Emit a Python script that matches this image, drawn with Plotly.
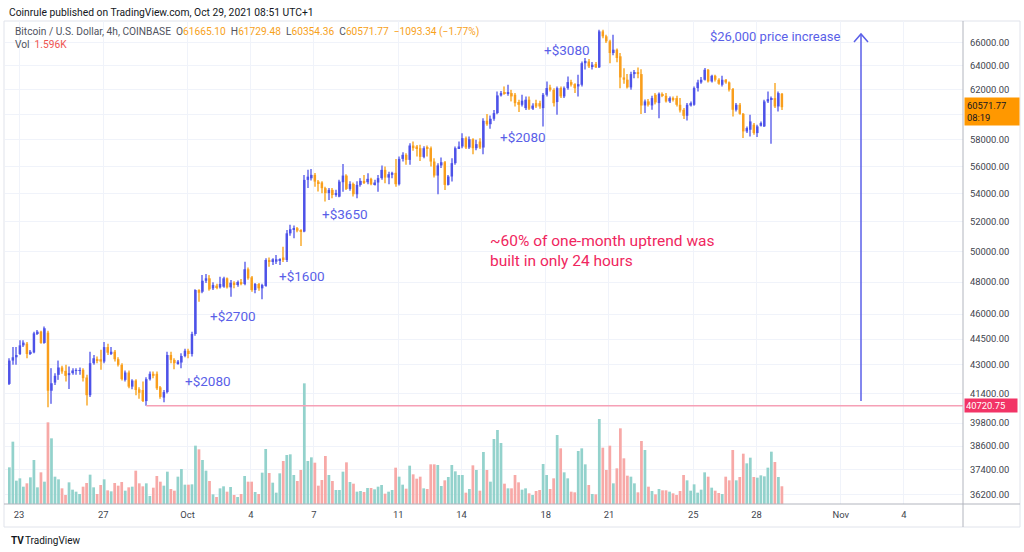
import numpy as np
import pandas as pd
import plotly.graph_objects as go

# ---------------- data ----------------
start_time = "2021-09-22 13:00"
n_bars = 221
dates = pd.date_range(start_time, periods=n_bars, freq="4h")

opens = [
    41924, 43247, 43436, 43625, 44130, 44231, 43663, 43720, 44840, 44942,
    44272, 44881, 41546, 42000, 42434, 42850, 42661, 42416, 42529, 42661,
    42661, 42718, 42283, 41300, 43096, 43342, 43323, 43190, 44028, 43663,
    43757, 43323, 43002, 42151, 42567, 41773, 42113, 41622, 41584, 40979,
    42189, 42491, 42491, 41735, 41168, 41471, 43568, 43285, 43096, 43134,
    43512, 43814, 43625, 44800, 47500, 47393, 48091, 48245, 47608, 47780,
    47670, 47712, 48245, 47670, 47965, 47880, 48007, 47880, 48830, 48308,
    47500, 47880, 47608, 47760, 49436, 49350, 49324, 49400, 49600, 49436,
    51220, 51500, 51570, 51452, 51340, 54991, 55110, 55360, 54870, 54800,
    54390, 54030, 54267, 53900, 53780, 54823, 55310, 54335, 54700, 53953,
    54628, 54920, 54820, 55070, 54676, 54800, 55120, 55730, 55160, 55360,
    55510, 54676, 56550, 56856, 56475, 57565, 57490, 57360, 56700, 57410,
    57360, 56350, 55310, 56060, 56300, 54628, 55240, 56230, 57360, 57490,
    58130, 57410, 58050, 57360, 57870, 57410, 59490, 59220, 59650, 60100,
    61530, 61800, 61720, 61720, 61585, 60990, 60770, 60500, 61180, 60450,
    60900, 60900, 60500, 61585, 62190, 61990, 60990, 62130, 61450, 62130,
    62630, 62460, 62270, 62410, 64225, 64370, 63950, 64150, 63870, 67000,
    66560, 66120, 65100, 65390, 64815, 63020, 62830, 62190, 63300, 63470,
    63300, 60715, 61040, 60715, 61583, 60904, 61638, 61500, 61040, 61310,
    61310, 60770, 60367, 59888, 60715, 60770, 62133, 62603, 62825, 63665,
    62686, 63158, 62825, 62409, 62825, 62603, 62051, 60367, 60770, 60047,
    58655, 58785, 59177, 58526, 59098, 59046, 61040, 61174, 61310, 60635,
    61665.10,
]
highs = [
    43380, 44028, 44028, 44434, 44434, 44333, 43852, 44942, 45043, 45002,
    45246, 45002, 42812, 42529, 43247, 42945, 43002, 42907, 42812, 42812,
    42850, 42812, 42434, 43757, 43568, 43474, 43866, 44333, 44231, 44028,
    43852, 43436, 43096, 42680, 42680, 42189, 42189, 41735, 42056, 42302,
    42623, 42623, 42623, 41811, 41584, 43757, 43757, 43380, 43285, 43663,
    43927, 43927, 44942, 47550, 47550, 48458, 48523, 48450, 48000, 47900,
    48350, 48350, 48300, 48136, 48050, 48100, 48200, 49324, 48950, 48400,
    47950, 47950, 47900, 49550, 49600, 49550, 49765, 49550, 50320, 51452,
    51800, 51750, 51650, 51500, 55360, 55734, 55790, 55490, 54990, 54900,
    54500, 54400, 54400, 54267, 55000, 56160, 55400, 54900, 54800, 54900,
    55120, 55360, 55480, 55150, 55000, 55360, 56060, 55980, 55600, 55600,
    56550, 56730, 57060, 56980, 57745, 57870, 57600, 57616, 57500, 57565,
    57490, 56600, 56230, 56650, 56400, 55360, 56600, 57490, 57870, 58520,
    58260, 58260, 58130, 58000, 58130, 59700, 60020, 59900, 60350, 61860,
    61900, 62270, 62400, 61990, 61720, 61180, 61585, 61450, 61450, 60900,
    61180, 61100, 61720, 62690, 62410, 62130, 62270, 62270, 62270, 63100,
    62830, 62540, 63244, 64370, 64670, 64580, 64320, 64320, 67150, 67150,
    66700, 66250, 66710, 65500, 65100, 63800, 63300, 63500, 63650, 63850,
    63700, 61200, 61230, 61500, 61720, 61775, 61775, 61720, 61447, 61447,
    61500, 61310, 60500, 60904, 61040, 62270, 62825, 63047, 63810, 63720,
    63245, 63245, 62960, 63158, 62880, 62686, 62133, 60904, 60904, 60100,
    59046, 59968, 59308, 59177, 59440, 61174, 61858, 61447, 62547, 61858,
    61729.48,
]
lows = [
    41867, 43002, 43002, 43568, 44028, 43380, 43568, 43663, 44739, 44231,
    44231, 40640, 40829, 41867, 42151, 42491, 42056, 41641, 42434, 42434,
    42434, 42056, 40735, 41206, 43002, 43096, 42718, 43096, 43568, 43568,
    43190, 42907, 42113, 42056, 41678, 41622, 41300, 41111, 40924, 40720.75,
    42113, 42246, 41584, 41111, 40908, 41395, 43096, 42756, 43002, 42812,
    43436, 43380, 43474, 44700, 46770, 47300, 47950, 47460, 47500, 47550,
    47600, 47650, 47600, 47080, 47608, 47700, 47800, 47800, 48150, 47393,
    47290, 47460, 46914, 47700, 49000, 49110, 49180, 49100, 49300, 49300,
    51050, 50890, 51300, 50367, 51300, 54400, 54950, 54500, 54145, 54030,
    53430, 53547, 53660, 53780, 53740, 54140, 54250, 54200, 53790, 53670,
    54500, 54700, 54676, 54600, 54580, 54140, 55000, 54750, 54676, 55120,
    54500, 54580, 56350, 56105, 56105, 57160, 56730, 56400, 56600, 56730,
    55980, 55160, 53953, 55860, 54260, 54580, 54870, 56105, 57300, 57360,
    57300, 57300, 56900, 57200, 57300, 56900, 59100, 58860, 59490, 60000,
    61450, 61585, 61500, 61040, 60630, 60180, 60630, 60350, 60350, 60350,
    60500, 60450, 59040, 61450, 61860, 60630, 59970, 61310, 61310, 61990,
    62270, 61720, 61450, 62270, 63680, 63810, 63680, 63810, 63810, 66400,
    65970, 64225, 64900, 64300, 62130, 62500, 62100, 62000, 62950, 62950,
    60020, 60100, 60635, 60367, 60800, 59700, 61390, 60960, 60904, 61040,
    60635, 60150, 59624, 59519, 60635, 60700, 61858, 62500, 62770, 62600,
    62600, 62686, 62410, 62270, 62500, 61858, 59835, 60234, 59968, 58139,
    58526, 58268, 58400, 58216, 59046, 58990, 60904, 57703, 60500, 60234,
    60354.36,
]
closes = [
    43247, 43436, 43568, 44130, 44292, 43625, 43757, 44840, 44942, 44272,
    45145, 41546, 41962, 42378, 42850, 42623, 42378, 42529, 42680, 42699,
    42699, 42246, 41300, 43096, 43380, 43247, 43190, 44028, 43701, 43757,
    43323, 43002, 42189, 42567, 41773, 42113, 41584, 41433, 40979, 42189,
    42491, 42378, 41678, 41206, 41471, 43568, 43285, 43096, 43190, 43512,
    43814, 43625, 44800, 47500, 47330, 48091, 48245, 47544, 47816, 47670,
    47880, 48245, 47670, 47965, 47880, 48007, 47923, 48830, 48245, 47500,
    47880, 47608, 47816, 49436, 49350, 49480, 49480, 49480, 49436, 51220,
    51500, 51570, 51405, 51340, 54991, 55230, 55360, 54870, 54750, 54390,
    54030, 54267, 53900, 54030, 54870, 55310, 54335, 54700, 53953, 54628,
    54920, 54820, 55070, 54676, 54800, 55120, 55730, 55160, 55410, 55510,
    54676, 56550, 56856, 56475, 57565, 57360, 57360, 56700, 57360, 57360,
    56350, 55310, 56060, 56300, 54628, 55240, 56230, 57360, 57490, 58130,
    57410, 58050, 57360, 57670, 57410, 59490, 59220, 59650, 60100, 61530,
    61720, 61720, 61780, 61450, 60900, 60770, 61100, 61180, 60450, 60700,
    60630, 60630, 61585, 62130, 61990, 60900, 62130, 61450, 62130, 62630,
    62410, 62130, 62460, 64225, 64420, 63950, 64093, 63870, 67000, 66560,
    66120, 65100, 65390, 64670, 63020, 62830, 62190, 63300, 63470, 63300,
    60710, 61040, 60770, 61310, 60960, 61665, 61500, 61040, 61310, 61174,
    60770, 60314, 59888, 60770, 60904, 62133, 62603, 62825, 63665, 62686,
    63158, 62825, 62492, 62825, 62603, 61996, 60367, 60770, 60047, 58655,
    58915, 59440, 58526, 59046, 59308, 61040, 61228, 61310, 60635, 61720,
    60571.77,
]
volumes_k = [
    3.3, 5.61, 2.1, 2.31, 1.56, 1.86, 2.4, 3.96, 1.5, 2.85,
    2.01, 7.35, 5.91, 2.46, 2.22, 1.41, 0.81, 1.95, 1.29, 1.11,
    0.9, 1.56, 1.89, 2.64, 1.5, 0.9, 1.71, 2.22, 1.23, 1.14,
    1.89, 1.65, 1.98, 1.2, 1.5, 1.56, 3.0, 1.86, 1.59, 1.86,
    0.72, 1.47, 2.52, 2.01, 1.65, 2.91, 1.35, 1.2, 2.46, 3.15,
    1.74, 1.74, 1.77, 5.25, 4.92, 3.96, 3.0, 2.07, 0.87, 0.63,
    1.41, 1.59, 1.11, 1.53, 0.81, 0.63, 0.9, 2.52, 2.01, 2.01,
    1.08, 0.9, 2.82, 4.95, 2.79, 1.92, 1.02, 2.76, 3.87, 4.41,
    4.47, 2.61, 2.07, 3.06, 10.86, 3.87, 4.2, 3.72, 1.65, 2.16,
    4.32, 2.61, 2.07, 1.26, 1.26, 2.91, 3.75, 1.98, 1.83, 1.11,
    1.17, 1.08, 1.44, 1.44, 1.32, 1.56, 1.71, 0.93, 1.11, 1.26,
    3.27, 2.46, 1.74, 1.38, 3.45, 2.67, 2.28, 2.46, 1.41, 1.35,
    3.57, 3.57, 3.51, 1.62, 2.13, 2.43, 3.51, 2.94, 2.61, 2.61,
    1.02, 1.35, 3.48, 3.06, 1.2, 4.68, 3.06, 2.01, 5.85, 6.66,
    5.49, 1.83, 1.41, 1.41, 2.61, 1.95, 1.29, 1.41, 0.96, 0.81,
    1.17, 1.26, 3.6, 2.61, 1.35, 2.31, 6.21, 5.01, 2.85, 2.31,
    1.11, 1.05, 4.77, 5.01, 3.57, 1.71, 0.9, 0.87, 7.65, 5.07,
    3.06, 5.25, 1.86, 3.21, 6.81, 4.11, 2.55, 2.46, 1.86, 1.05,
    5.67, 4.86, 1.56, 1.17, 0.87, 1.35, 1.23, 1.23, 1.11, 0.96,
    0.81, 1.17, 2.61, 2.13, 1.2, 1.77, 1.02, 1.29, 2.85, 2.46,
    1.47, 1.2, 0.99, 0.9, 2.46, 2.13, 4.86, 2.13, 2.43, 4.53,
    3.66, 4.17, 2.43, 2.37, 2.58, 2.49, 3.27, 4.71, 3.78, 2.43,
    1.596,
]

price_ticks = [36200, 37400, 38600, 39800, 41400, 43000, 44500, 46000, 48000,
               50000, 52000, 54000, 56000, 58000, 60000, 62000, 64000, 66000]
hidden_tick = 60000          # covered by the last-price label in the reference
time_ticks = ["2021-09-23", "2021-09-27", "2021-10-01", "2021-10-04", "2021-10-07",
              "2021-10-11", "2021-10-14", "2021-10-18", "2021-10-21", "2021-10-25",
              "2021-10-28", "2021-11-01", "2021-11-04"]
time_tick_labels = ["23", "27", "Oct", "4", "7", "11", "14", "18", "21", "25", "28", "Nov", "4"]

gain_labels = ["+$2080", "+$2700", "+$1600", "+$3650", "+$2080", "+$3080"]
support_price = 40720.75
support_start = 39          # index of the candle that set the low
last_close = 60571.77
countdown = "08:19"
legend_values = {"O": "61665.10", "H": "61729.48", "L": "60354.36", "C": "60571.77"}
change_text = "\u22121093.34 (\u22121.77%)"
volume_text = "1.596K"

# ---------------- styling ----------------
FONT = "Roboto, 'Trebuchet MS', sans-serif"
UP = "#4d52e8"
DOWN = "#f99e1c"
UP_WICK = "#8c8ff0"
DOWN_WICK = "#fac062"
VOL_UP = "#93d2cc"
VOL_DOWN = "#f7a9a7"
TEXT_BLUE = "#5a5fe8"
RED_TEXT = "#f0265e"
GRID = "#f0f3fa"
AXIS = "#b2b5be"
SMALL = 9.4

FOUR_H_MS = 4 * 3600 * 1000
Y_LO, Y_HI = 4.55311, 4.83207      # log10 range of the price pane
PX_PER_DAY = 21.07
x_left = pd.Timestamp("2021-09-23") - pd.Timedelta(days=14 / PX_PER_DAY)
x_right = pd.Timestamp("2021-09-23") + pd.Timedelta(days=944 / PX_PER_DAY)

L_PX, R_PX, T_PX, B_PX = 5, 963, 21, 504


def px(x):
    return (x - L_PX) / (R_PX - L_PX)


def py(y):
    return (B_PX - y) / (B_PX - T_PX)


def price_to_paper(p):
    return (np.log10(p) - Y_LO) / (Y_HI - Y_LO)


o = np.array(opens, dtype=float)
h = np.array(highs, dtype=float)
l = np.array(lows, dtype=float)
c = np.array(closes, dtype=float)
up = c >= o

fig = go.Figure()

fig.add_trace(go.Bar(
    x=dates, y=volumes_k, yaxis="y2", width=0.78 * FOUR_H_MS,
    marker=dict(color=[VOL_UP if u else VOL_DOWN for u in up], line=dict(width=0)),
    hoverinfo="skip",
))
fig.add_trace(go.Bar(
    x=dates, y=h - l, base=l, width=0.30 * FOUR_H_MS,
    marker=dict(color=[UP_WICK if u else DOWN_WICK for u in up], line=dict(width=0)),
    hoverinfo="skip",
))
fig.add_trace(go.Bar(
    x=dates, y=np.abs(c - o), base=np.minimum(o, c), width=0.70 * FOUR_H_MS,
    marker=dict(color=[UP if u else DOWN for u in up], line=dict(width=0)),
    hoverinfo="skip",
))

shapes = [
    # widget frame
    dict(type="rect", xref="paper", yref="paper", x0=px(4), x1=px(1020), y0=py(527), y1=py(21),
         line=dict(color="#e0e3eb", width=1), layer="below"),
    # price-axis line and time-axis line
    dict(type="line", xref="paper", yref="paper", x0=1, x1=1, y0=py(527), y1=py(21),
         line=dict(color=AXIS, width=1)),
    dict(type="line", xref="paper", yref="paper", x0=px(4), x1=px(1020), y0=0, y1=0,
         line=dict(color=AXIS, width=1)),
    # support line
    dict(type="line", xref="x", yref="paper", x0=dates[support_start], x1=x_right,
         y0=price_to_paper(support_price), y1=price_to_paper(support_price),
         line=dict(color="#f6a0b6", width=1.5)),
    # arrow
    dict(type="line", xref="paper", yref="paper", x0=px(861), x1=px(861), y0=py(401), y1=py(34),
         line=dict(color=TEXT_BLUE, width=1.5)),
    dict(type="path", xref="paper", yref="paper",
         path=f"M {px(854)},{py(42)} L {px(861)},{py(34)} L {px(868)},{py(42)}",
         line=dict(color=TEXT_BLUE, width=1.5)),
]

annotations = []


def add_text(text, x, y, size, color, xanchor="center", yanchor="middle", **kw):
    annotations.append(dict(text=text, x=x, y=y, xref="paper", yref="paper", showarrow=False,
                            xanchor=xanchor, yanchor=yanchor,
                            font=dict(family=FONT, size=size, color=color), **kw))


add_text("Coinrule published on TradingView.com, Oct 29, 2021 08:51 UTC+1",
         px(7), py(12), 10.3, "#131722", xanchor="left")

legend_parts = ["Bitcoin / U.S. Dollar, 4h, COINBASE"]
for k, v in legend_values.items():
    legend_parts.append(f"{k}<span style='color:#f7a21b'>{v}</span>")
legend_parts.append(f"<span style='color:#f7a21b'>{change_text}</span>")
add_text("&nbsp;&nbsp;".join(legend_parts), px(13), py(32), 10.2, "#50535e", xanchor="left")
add_text(f"Vol&nbsp;&nbsp;<span style='color:#ef5350'>{volume_text}</span>",
         px(13), py(44), 10.2, "#50535e", xanchor="left")

gain_pos = [(208, 381), (233, 316), (302, 276), (345, 214), (523, 137), (567, 50)]
for txt, (gx, gy) in zip(gain_labels, gain_pos):
    add_text(txt, px(gx), py(gy), 13.5, TEXT_BLUE)

add_text("$26,000 price increase", px(775), py(37), 13, TEXT_BLUE)
add_text("~60% of one-month uptrend was<br>built in only 24 hours", px(488), py(251), 15.5,
         RED_TEXT, xanchor="left", align="left")

# price labels on the right axis
annotations.append(dict(text=f"{last_close:.2f}<br>{countdown}", x=1, xref="paper", xanchor="left",
                        xshift=1, y=price_to_paper(last_close), yref="paper", yanchor="middle",
                        yshift=-4.5, showarrow=False, align="left", width=50, borderpad=2,
                        bgcolor="#ff9800", font=dict(family=FONT, size=SMALL, color="#131722")))
annotations.append(dict(text=f"{support_price:.2f}", x=1, xref="paper", xanchor="left",
                        xshift=1, y=price_to_paper(support_price), yref="paper", yanchor="middle",
                        showarrow=False, align="left", width=50, borderpad=1,
                        bgcolor="#f23466", font=dict(family=FONT, size=SMALL, color="white")))

# TradingView mark
add_text("<b>TV</b>", px(9), py(540), 10, "#131722", xanchor="left")
add_text("TradingView", px(23), py(540), 10, "#131722", xanchor="left")

fig.update_layout(
    width=1024, height=552,
    margin=dict(l=L_PX, r=1024 - R_PX, t=T_PX, b=552 - B_PX),
    paper_bgcolor="white", plot_bgcolor="white",
    showlegend=False, barmode="overlay",
    xaxis=dict(type="date", range=[x_left, x_right], tickvals=time_ticks, ticktext=time_tick_labels,
               showgrid=True, gridcolor=GRID, gridwidth=1, zeroline=False, showline=False,
               ticks="", ticklabelstandoff=4,
               tickfont=dict(family=FONT, size=SMALL, color="#40434d")),
    yaxis=dict(type="log", range=[Y_LO, Y_HI], side="right", tickvals=price_ticks,
               ticktext=["" if p == hidden_tick else f"{p:.2f}" for p in price_ticks],
               showgrid=True, gridcolor=GRID, gridwidth=1, zeroline=False, showline=False,
               ticks="", ticklabelstandoff=6,
               tickfont=dict(family=FONT, size=SMALL, color="#40434d")),
    yaxis2=dict(overlaying="y", range=[0, 43.47], visible=False),
    shapes=shapes,
    annotations=annotations,
)

fig.write_html("out.html", config={"displayModeBar": False},
               post_script="document.body.style.margin='0';")
